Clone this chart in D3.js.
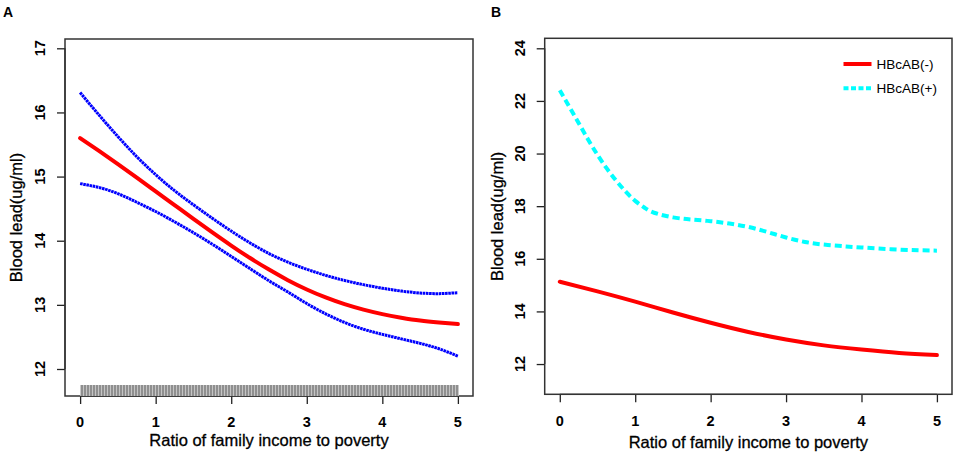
<!DOCTYPE html>
<html><head><meta charset="utf-8">
<script src="https://cdn.jsdelivr.net/npm/d3@7"></script>
<style>
body{margin:0;background:#fff;}
text{font-family:"Liberation Sans",Arial,sans-serif;fill:#000;}
</style></head>
<body>
<svg id="c" width="957" height="456"></svg>
<script>
// ---- Data ----
const xTicks = [0, 1, 2, 3, 4, 5];
const yTicksA = [12, 13, 14, 15, 16, 17];
const yTicksB = [12, 14, 16, 18, 20, 22, 24];

// Panel A (0.25 steps)
const xA = [0,0.25,0.5,0.75,1,1.25,1.5,1.75,2,2.25,2.5,2.75,3,3.25,3.5,3.75,4,4.25,4.5,4.75,5];
const fitA   = [15.60,15.40,15.195,14.985,14.77,14.555,14.34,14.13,13.925,13.73,13.55,13.385,13.24,13.115,13.01,12.925,12.855,12.80,12.755,12.725,12.70];
const upperA = [16.31,15.96,15.625,15.31,15.03,14.78,14.56,14.35,14.15,13.965,13.80,13.665,13.555,13.46,13.38,13.315,13.26,13.215,13.185,13.175,13.19];
const lowerA = [14.89,14.83,14.735,14.60,14.455,14.295,14.125,13.945,13.755,13.565,13.375,13.20,13.02,12.86,12.725,12.62,12.54,12.47,12.40,12.315,12.20];

// Panel B
const xNeg = [0,0.5,1,1.5,2,2.5,3,3.5,4,4.5,5];
const hbcabNeg = [15.13,14.76,14.37,13.96,13.57,13.22,12.93,12.71,12.55,12.42,12.34];
const xPos = [0,0.125,0.25,0.375,0.5,0.625,0.75,0.875,1,1.125,1.25,1.5,1.75,2,2.25,2.5,2.75,3,3.25,3.5,3.75,4,4.5,5];
const hbcabPos = [22.41,21.785,21.16,20.535,19.95,19.425,18.96,18.55,18.20,17.94,17.75,17.575,17.49,17.43,17.34,17.21,17.02,16.81,16.64,16.54,16.48,16.43,16.35,16.31];

const legendLabels = ["HBcAB(-)", "HBcAB(+)"];
const xTitle = "Ratio of family income to poverty";
const yTitle = "Blood lead(ug/ml)";

// ---- Drawing ----
const svg = d3.select("#c");
const defs = svg.append("defs");
const pat = defs.append("pattern").attr("id","rug").attr("patternUnits","userSpaceOnUse")
  .attr("width",3).attr("height",20);
pat.append("rect").attr("width",3).attr("height",20).attr("fill","#c4c4c4");
pat.append("rect").attr("width",2).attr("height",20).attr("fill","#8f8f8f");

function panel(opts){
  const {box, xDomain, yDomain, yTicks, label, labelPos, yLabX, yTitleX, xLabY, xTitleY} = opts;
  const g = svg.append("g");
  const x = d3.scaleLinear().domain(xDomain).range([box.l, box.r]);
  const y = d3.scaleLinear().domain(yDomain).range([box.b, box.t]);

  const xa = g.append("g").attr("transform",`translate(0,${box.b})`)
    .call(d3.axisBottom(x).tickValues(xTicks).tickSize(8).tickFormat(""));
  xa.select(".domain").attr("d",`M${x(0)},0H${x(5)}`);
  xa.selectAll("line,path").attr("stroke","#222").attr("stroke-width",1.3);
  g.selectAll(".xl").data(xTicks).enter().append("text")
    .attr("x",d=>x(d)).attr("y",xLabY).attr("text-anchor","middle")
    .attr("font-size",14.5).attr("font-weight","bold").text(d=>d);

  const ya = g.append("g").attr("transform",`translate(${box.l},0)`)
    .call(d3.axisLeft(y).tickValues(yTicks).tickSize(8).tickFormat(""));
  ya.select(".domain").attr("d",`M0,${y(yTicks[0])}V${y(yTicks[yTicks.length-1])}`);
  ya.selectAll("line,path").attr("stroke","#222").attr("stroke-width",1.3);
  g.selectAll(".yl").data(yTicks).enter().append("text")
    .attr("transform",d=>`translate(${yLabX},${y(d)}) rotate(-90)`)
    .attr("text-anchor","middle").attr("font-size",14.5).attr("font-weight","bold").text(d=>d);

  g.append("rect").attr("x",box.l).attr("y",box.t).attr("width",box.r-box.l).attr("height",box.b-box.t)
    .attr("fill","none").attr("stroke","#333").attr("stroke-width",1.5);

  g.append("text").attr("x",(x(0)+x(5))/2).attr("y",xTitleY).attr("text-anchor","middle")
    .attr("font-size",16.5).attr("stroke","#000").attr("stroke-width",0.3).text(xTitle);
  g.append("text").attr("transform",`translate(${yTitleX},${(box.t+box.b)/2}) rotate(-90)`)
    .attr("text-anchor","middle").attr("font-size",16.5).attr("stroke","#000").attr("stroke-width",0.3).text(yTitle);
  g.append("text").attr("x",labelPos[0]).attr("y",labelPos[1]).attr("font-size",14)
    .attr("font-weight","bold").text(label);
  return {g,x,y};
}

// Panel A
const A = panel({box:{l:65,t:39,r:473,b:396}, xDomain:[-0.2,5.2], yDomain:[11.579,17.145],
  yTicks:yTicksA, label:"A", labelPos:[3,17], yLabX:45, yTitleX:22, xLabY:427, xTitleY:446});
A.g.append("rect").attr("x",A.x(0)).attr("y",385).attr("width",A.x(5)-A.x(0)+1).attr("height",396-385)
  .attr("fill","url(#rug)");
const lineA = d3.line().x((d,i)=>A.x(xA[i])).y(d=>A.y(d)).curve(d3.curveNatural);
[upperA, lowerA].forEach(s=>{
  A.g.append("path").attr("d",lineA(s)).attr("fill","none").attr("stroke","#0000ff")
    .attr("stroke-width",3).attr("stroke-dasharray","2.6,0.6");
});
A.g.append("path").attr("d",lineA(fitA)).attr("fill","none").attr("stroke","#ff0000")
  .attr("stroke-width",4).attr("stroke-linecap","round");

// Panel B
const B = panel({box:{l:544.7,t:38.3,r:952,b:394.3}, xDomain:[-0.2,5.2], yDomain:[10.85,24.38],
  yTicks:yTicksB, label:"B", labelPos:[491,17], yLabX:525, yTitleX:503, xLabY:426, xTitleY:448});
const lineNeg = d3.line().x((d,i)=>B.x(xNeg[i])).y(d=>B.y(d)).curve(d3.curveNatural);
const linePos = d3.line().x((d,i)=>B.x(xPos[i])).y(d=>B.y(d)).curve(d3.curveNatural);
B.g.append("path").attr("d",linePos(hbcabPos)).attr("fill","none").attr("stroke","#00ffff")
  .attr("stroke-width",4).attr("stroke-dasharray","7,4");
B.g.append("path").attr("d",lineNeg(hbcabNeg)).attr("fill","none").attr("stroke","#ff0000")
  .attr("stroke-width",4).attr("stroke-linecap","round");

const leg = B.g.append("g");
const legStyles = [{c:"#ff0000",dash:null},{c:"#00ffff",dash:"5,2.5"}];
legendLabels.forEach((t,i)=>{
  const yy = 64 + i*24.3;
  leg.append("line").attr("x1",843.5).attr("x2",871.5).attr("y1",yy).attr("y2",yy)
    .attr("stroke",legStyles[i].c).attr("stroke-width",4)
    .attr("stroke-dasharray",legStyles[i].dash);
  leg.append("text").attr("x",876.5).attr("y",yy+4.7).attr("font-size",13.5).text(t);
});
</script>
</body></html>
